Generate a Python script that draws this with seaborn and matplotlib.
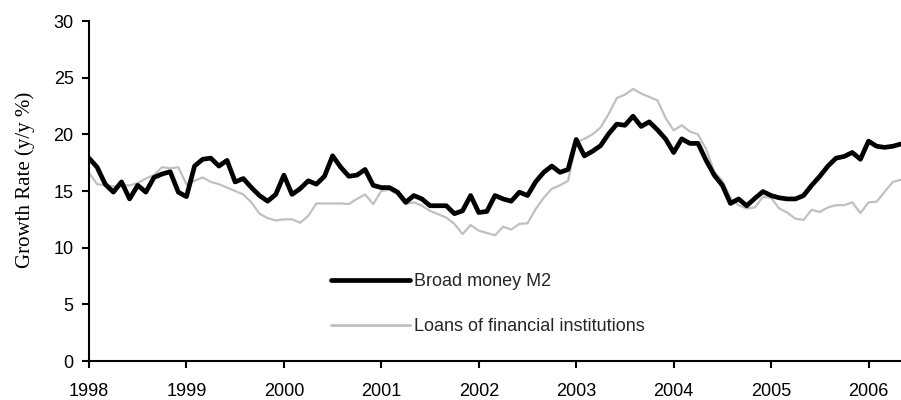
import numpy as np
import pandas as pd
import matplotlib
matplotlib.use("Agg")
import matplotlib.pyplot as plt
import seaborn as sns
from matplotlib.lines import Line2D

# Monthly data, Jan 1998 - May 2006
start_year = 1998
m2 = [17.9, 17.1, 15.6, 14.9, 15.8, 14.3, 15.5, 14.9, 16.2, 16.5, 16.7, 14.9,
      14.5, 17.2, 17.8, 17.9, 17.2, 17.7, 15.8, 16.1, 15.3, 14.6, 14.1, 14.7,
      16.4, 14.7, 15.2, 15.9, 15.6, 16.3, 18.1, 17.1, 16.3, 16.4, 16.9, 15.5,
      15.3, 15.3, 14.9, 14.0, 14.6, 14.3, 13.7, 13.7, 13.7, 13.0, 13.25, 14.6,
      13.1, 13.2, 14.6, 14.3, 14.1, 14.9, 14.6, 15.8, 16.65, 17.2, 16.65, 16.9,
      19.55, 18.1, 18.5, 19.0, 20.05, 20.9, 20.8, 21.6, 20.7, 21.1, 20.4, 19.6,
      18.4, 19.6, 19.2, 19.2, 17.7, 16.4, 15.5, 13.9, 14.3, 13.7, 14.35, 14.95,
      14.6, 14.4, 14.3, 14.3, 14.6, 15.5, 16.3, 17.2, 17.9, 18.05, 18.4, 17.8,
      19.4, 18.95, 18.85, 18.95, 19.15]
loans = [16.6, 15.6, 15.5, 15.4, 15.5, 15.5, 15.7, 16.1, 16.4, 17.1, 17.0, 17.1,
         15.6, 15.9, 16.2, 15.8, 15.6, 15.3, 15.0, 14.7, 14.0, 13.0, 12.6, 12.4,
         12.5, 12.5, 12.2, 12.8, 13.9, 13.9, 13.9, 13.9, 13.85, 14.3, 14.7, 13.85,
         15.0, 15.1, 14.7, 13.85, 14.0, 13.7, 13.25, 12.95, 12.65, 12.1, 11.2, 12.0,
         11.5, 11.3, 11.1, 11.85, 11.6, 12.1, 12.15, 13.4, 14.4, 15.2, 15.5, 15.9,
         19.3, 19.6, 20.0, 20.6, 21.8, 23.2, 23.5, 24.0, 23.6, 23.3, 23.0, 21.45,
         20.35, 20.8, 20.25, 20.0, 18.7, 16.7, 15.9, 14.4, 13.75, 13.45, 13.55, 14.5,
         14.4, 13.45, 13.1, 12.55, 12.45, 13.35, 13.15, 13.55, 13.75, 13.75, 14.0, 13.05,
         14.0, 14.05, 14.95, 15.8, 16.0]
year_ticks = list(range(1998, 2007))
y_ticks = [0, 5, 10, 15, 20, 25, 30]
series_names = ["Broad money M2", "Loans of financial institutions"]

n = len(m2)
t = start_year + np.arange(n) / 12.0
df = pd.DataFrame({
    "t": np.concatenate([t, t]),
    "v": m2 + loans,
    "s": [series_names[0]] * n + [series_names[1]] * n,
})

sns.set_style("white")
plt.rcParams["font.family"] = ["Liberation Sans", "DejaVu Sans"]

fig = plt.figure(figsize=(9.01, 4.0), dpi=100)
ax = fig.add_axes([89 / 901, 39 / 400, 812 / 901, 340 / 400])

sns.lineplot(data=df, x="t", y="v", hue="s", size="s",
             palette={series_names[0]: "black", series_names[1]: "#c0c0c0"},
             sizes={series_names[0]: 3.4, series_names[1]: 1.6},
             ax=ax, legend=False)
for line in ax.get_lines():
    if matplotlib.colors.to_hex(line.get_color()) == "#000000":
        line.set_zorder(3)
    else:
        line.set_zorder(2)

ax.set_xlim(start_year, start_year + (n - 1) / 12.0)
ax.set_ylim(0, 30)
ax.set_xticks(year_ticks)
ax.set_xticklabels([str(y) for y in year_ticks])
ax.set_yticks(y_ticks)
ax.set_xlabel("")
ax.set_ylabel("Growth Rate (y/y %)", family=["Liberation Serif"], fontsize=15,
              color="black")
ax.yaxis.set_label_coords(-0.066, 0.532)

for side in ["top", "right"]:
    ax.spines[side].set_visible(False)
for side in ["left", "bottom"]:
    ax.spines[side].set_color("black")
    ax.spines[side].set_linewidth(1.5)
ax.tick_params(axis="both", labelsize=13, colors="black", width=1.5,
               direction="out", left=True, bottom=True)
ax.tick_params(axis="y", length=5, pad=6)
ax.tick_params(axis="x", length=5, pad=11)

handles = [Line2D([], [], color="black", lw=3.4),
           Line2D([], [], color="#c0c0c0", lw=2.0)]
ax.legend(handles, series_names, loc="upper left",
          bbox_to_anchor=(242 / 812, 0.258), frameon=False,
          fontsize=13, handlelength=4.4, handletextpad=0.2,
          labelspacing=1.55, borderpad=0, borderaxespad=0)

fig.savefig("out.png", dpi=100)
